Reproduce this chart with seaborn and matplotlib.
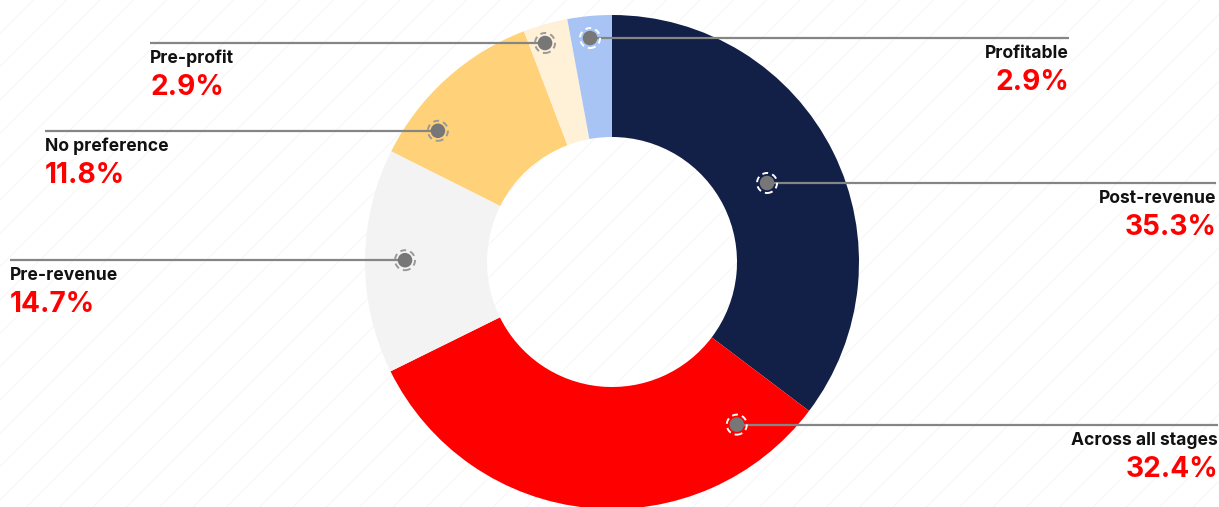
import numpy as np
import matplotlib
matplotlib.use("Agg")
import matplotlib.pyplot as plt
import seaborn as sns
import pandas as pd
from matplotlib.patches import Rectangle, Circle

# Share of investors by preferred company stage
stages = ["Post-revenue", "Across all stages", "Pre-revenue",
          "No preference", "Pre-profit", "Profitable"]
shares = [35.3, 32.4, 14.7, 11.8, 2.9, 2.9]
colors = ["#121F47", "#FF0000", "#F3F3F3", "#FFD27A", "#FFF0D8", "#A8C4F4"]

# Callout layout: marker angle (deg, clockwise from 12 o'clock), marker radius,
# label side, and the x where the leader line ends / the label is anchored
marker_angle = [63.0, 142.5, 270.5, 307.0, 343.0, 354.4]
marker_radius = [174, 205, 207, 218, 229, 225]
label_side = ["right", "right", "left", "left", "left", "right"]
label_x = [1216, 1218, 10, 45, 150, 1069]
ring_color = ["white", "white", "#9A9A9A", "#9A9A9A", "#9A9A9A", "white"]

W, H = 1219, 507
sns.set_theme(style="white")
plt.rcParams["font.family"] = ["Inter", "DejaVu Sans"]

fig = plt.figure(figsize=(W / 100, H / 100), dpi=100)
ax = fig.add_axes([0, 0, 1, 1])
ax.set_xlim(0, W)
ax.set_ylim(0, H)
ax.axis("off")

# faint diagonal background texture
plt.rcParams["hatch.color"] = "#F4F4F4"
plt.rcParams["hatch.linewidth"] = 0.6
ax.add_patch(Rectangle((0, 0), W, H, facecolor="white", edgecolor="#F4F4F4",
                       hatch="/", linewidth=0, zorder=0))

cx, cy = 612, H - 262
r_out, r_in = 247, 125

ax.pie(shares, colors=colors, startangle=90, counterclock=False,
       center=(cx, cy), radius=r_out,
       wedgeprops=dict(width=r_out - r_in, linewidth=0),
       frame=True)
ax.set_xlim(0, W)
ax.set_ylim(0, H)
ax.set_aspect("equal")
ax.axis("off")

ang = np.deg2rad(marker_angle)
mx = cx + np.array(marker_radius) * np.sin(ang)
my = cy + np.array(marker_radius) * np.cos(ang)
df = pd.DataFrame({"stage": stages, "x": mx, "y": my})

for i, stage in enumerate(stages):
    x0, y0 = mx[i], my[i]
    if label_side[i] == "right":
        ax.plot([x0, label_x[i]], [y0, y0], color="#858585", lw=1.6,
                solid_capstyle="butt", zorder=3)
        ha = "right"
    else:
        ax.plot([label_x[i], x0], [y0, y0], color="#858585", lw=1.6,
                solid_capstyle="butt", zorder=3)
        ha = "left"
    ax.add_patch(Circle((x0, y0), 10, fill=False, edgecolor=ring_color[i],
                        lw=1.4, ls=(0, (3.0, 2.2)), zorder=4))
    ax.text(label_x[i], y0 - 15.5, stage, ha=ha, va="center", fontsize=12.6,
            fontweight="bold", color="#111111", zorder=5)
    ax.text(label_x[i], y0 - 44.5, f"{shares[i]:.1f}%", ha=ha, va="center",
            fontsize=20.2, fontweight="bold", color="#FF0000", zorder=5)

sns.scatterplot(data=df, x="x", y="y", s=110, color="#777777",
                edgecolor="none", ax=ax, zorder=6, legend=False)
ax.set_xlim(0, W)
ax.set_ylim(0, H)
ax.axis("off")

fig.savefig("out.png", dpi=100)
